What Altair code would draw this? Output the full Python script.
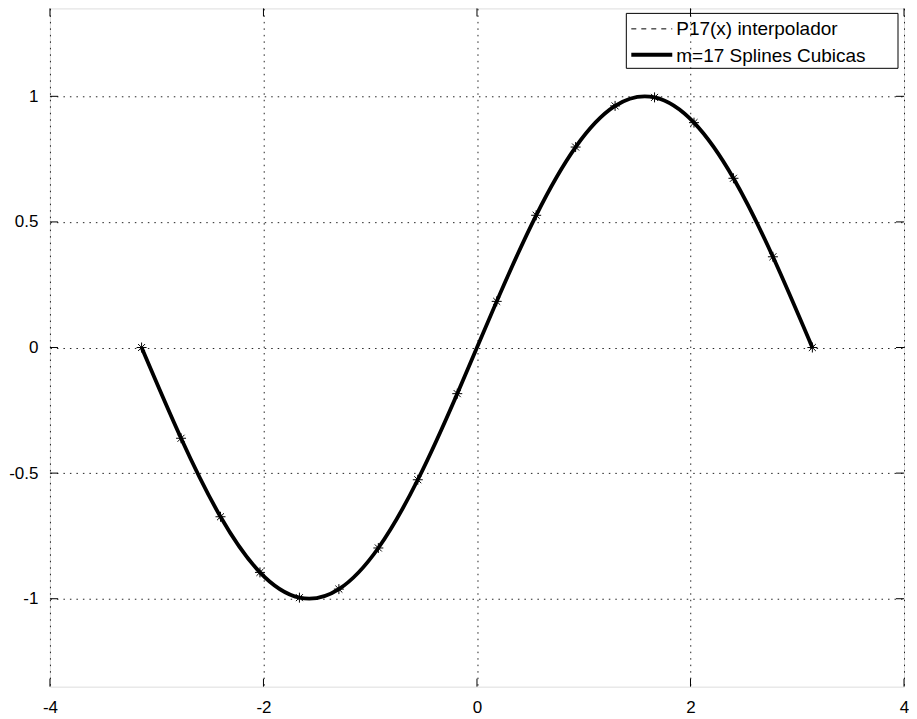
import altair as alt
import pandas as pd

# Interpolation nodes (18 points, m=17 intervals)
node_x = [-3.1416, -2.7720, -2.4024, -2.0328, -1.6632, -1.2936, -0.9240, -0.5544, -0.1848,
          0.1848, 0.5544, 0.9240, 1.2936, 1.6632, 2.0328, 2.4024, 2.7720, 3.1416]
node_y = [0.0, -0.3612, -0.6737, -0.8952, -0.9957, -0.9618, -0.7980, -0.5264, -0.1837,
          0.1837, 0.5264, 0.7980, 0.9618, 0.9957, 0.8952, 0.6737, 0.3612, 0.0]
x_ticks = [-4, -2, 0, 2, 4]
y_ticks = [-1, -0.5, 0, 0.5, 1]
legend_labels = ["P17(x) interpolador", "m=17 Splines Cubicas"]

FONT = "Liberation Sans"
W, H = 855, 679
ASTERISK = "M-1,0L1,0M0,-1L0,1M-0.7,-0.7L0.7,0.7M-0.7,0.7L0.7,-0.7"

nodes = pd.DataFrame({"x": node_x, "y": node_y})
xt = pd.DataFrame({"t": x_ticks})
yt = pd.DataFrame({"t": y_ticks})
one = pd.DataFrame({"a": [0]})

xscale = alt.Scale(domain=[-4, 4], nice=False, zero=False)
yscale = alt.Scale(domain=[-1.35, 1.35], nice=False, zero=False)

xaxis = alt.Axis(values=x_ticks, title=None, grid=True, gridColor="#222", gridDash=[1.5, 5],
                 gridWidth=1, ticks=False, domain=False, labelFont=FONT, labelFontSize=17,
                 labelColor="black", labelPadding=13, labelExpr="'' + datum.value",
                 labelFlush=False)
yaxis = alt.Axis(values=y_ticks, title=None, grid=True, gridColor="#222", gridDash=[1.5, 5],
                 gridWidth=1, ticks=False, domain=False, labelFont=FONT, labelFontSize=17,
                 labelColor="black", labelPadding=12, labelExpr="'' + datum.value",
                 labelFlush=False)

X = alt.X("x:Q", scale=xscale, axis=xaxis)
Y = alt.Y("y:Q", scale=yscale, axis=yaxis)

base = alt.Chart(nodes)
p17 = base.mark_line(interpolate="natural", color="black", strokeWidth=1,
                     strokeDash=[5, 5]).encode(x=X, y=Y)
spline = base.mark_line(interpolate="natural", color="black",
                        strokeWidth=3.8).encode(x=X, y=Y)
pts = base.mark_point(shape=ASTERISK, size=100, color="black", strokeWidth=1,
                      filled=False, opacity=1).encode(x=X, y=Y)

XT = alt.X("t:Q", scale=xscale, axis=xaxis)
YT = alt.Y("t:Q", scale=yscale, axis=yaxis)
tick_b = alt.Chart(xt).mark_rule(color="black").encode(x=XT, y=alt.value(H), y2=alt.value(H - 8))
tick_t = alt.Chart(xt).mark_rule(color="black").encode(x=XT, y=alt.value(0), y2=alt.value(8))
tick_l = alt.Chart(yt).mark_rule(color="black").encode(y=YT, x=alt.value(0), x2=alt.value(8))
tick_r = alt.Chart(yt).mark_rule(color="black").encode(y=YT, x=alt.value(W), x2=alt.value(W - 8))

# Legend box
leg_box = alt.Chart(one).mark_rect(fill="white", fillOpacity=0, stroke="black",
                                   strokeWidth=1).encode(
    x=alt.value(577), x2=alt.value(849), y=alt.value(5), y2=alt.value(60))
leg_l1 = alt.Chart(one).mark_rule(color="black", strokeWidth=1, strokeDash=[5, 5]).encode(
    x=alt.value(582), x2=alt.value(623), y=alt.value(20.5))
leg_l2 = alt.Chart(one).mark_rule(color="black", strokeWidth=4).encode(
    x=alt.value(582), x2=alt.value(623), y=alt.value(46.5))
leg_t1 = alt.Chart(pd.DataFrame({"lab": [legend_labels[0]]})).mark_text(
    align="left", baseline="middle", font=FONT, fontSize=19, color="black").encode(
    x=alt.value(627), y=alt.value(21), text="lab:N")
leg_t2 = alt.Chart(pd.DataFrame({"lab": [legend_labels[1]]})).mark_text(
    align="left", baseline="middle", font=FONT, fontSize=19, color="black").encode(
    x=alt.value(627), y=alt.value(48), text="lab:N")

chart = alt.layer(p17, spline, pts, tick_b, tick_t, tick_l, tick_r,
                  leg_box, leg_l1, leg_l2, leg_t1, leg_t2).properties(
    width=W, height=H,
    autosize=alt.AutoSizeParams(type="none"),
    padding={"left": 42, "top": 0, "right": 5, "bottom": 32},
).configure_view(stroke="black", strokeWidth=1).configure(background="white")

chart.save("out.html", embed_options={"renderer": "svg", "actions": False})
